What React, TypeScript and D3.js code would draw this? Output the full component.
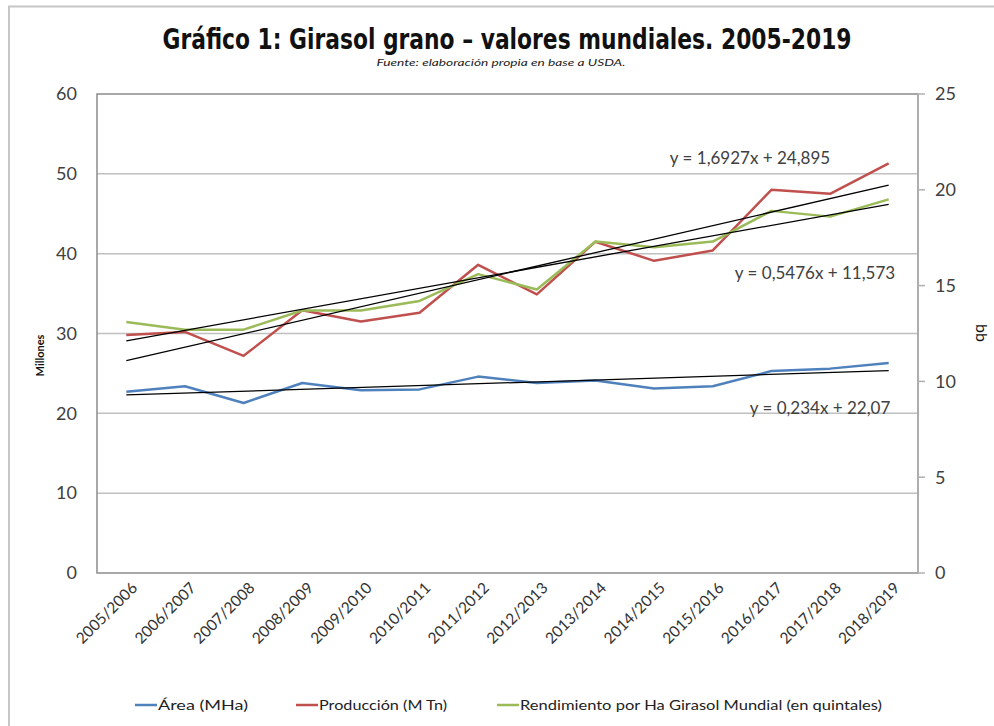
import { useRef, useEffect } from "react";
import * as d3 from "d3";

const campaigns = ["2005/2006", "2006/2007", "2007/2008", "2008/2009", "2009/2010", "2010/2011", "2011/2012", "2012/2013", "2013/2014", "2014/2015", "2015/2016", "2016/2017", "2017/2018", "2018/2019"];
const area = [22.7, 23.4, 21.3, 23.8, 22.9, 23.0, 24.6, 23.8, 24.1, 23.1, 23.4, 25.3, 25.6, 26.3];
const produccion = [29.8, 30.2, 27.2, 32.9, 31.5, 32.6, 38.6, 34.9, 41.5, 39.1, 40.4, 48.0, 47.5, 51.3];
const rendimiento = [13.1, 12.7, 12.7, 13.7, 13.7, 14.2, 15.6, 14.8, 17.3, 17.0, 17.3, 18.9, 18.6, 19.5];
const leftTicks = [0, 10, 20, 30, 40, 50, 60];
const rightTicks = [0, 5, 10, 15, 20, 25];
// trend lines: [slope, intercept, axis]
const trends: { m: number; b: number; axis: "l" | "r"; label: string }[] = [
  { m: 1.6927, b: 24.895, axis: "l", label: "y = 1,6927x + 24,895" },
  { m: 0.5476, b: 11.573, axis: "r", label: "y = 0,5476x + 11,573" },
  { m: 0.234, b: 22.07, axis: "l", label: "y = 0,234x + 22,07" },
];

const FONT = "Lato, 'Open Sans', sans-serif";

export default function App() {
  const ref = useRef<SVGSVGElement>(null);

  useEffect(() => {
    if (!ref.current) return;
    const svg = d3.select(ref.current); svg.selectAll("*").remove();
    const W = 994, H = 726;
    const left = 97, right = 918, top = 94, bottom = 573;
    svg.attr("width", W).attr("height", H);
    svg.append("rect").attr("width", W).attr("height", H).attr("fill", "#fff");
    // outer frame
    svg.append("rect").attr("x", 9).attr("y", 6.5).attr("width", 1100).attr("height", 900)
      .attr("fill", "none").attr("stroke", "#c6c6c6").attr("stroke-width", 2);

    const x = d3.scaleBand().domain(campaigns).range([left, right]);
    const cx = (d: string) => x(d)! + x.bandwidth() / 2;
    const yL = d3.scaleLinear().domain([0, 60]).range([bottom, top]);
    const yR = d3.scaleLinear().domain([0, 25]).range([bottom, top]);

    // title
    svg.append("text").attr("x", 507).attr("y", 49).attr("text-anchor", "middle")
      .attr("font-family", "'Liberation Sans Narrow', 'DejaVu Sans Condensed', sans-serif").attr("font-weight", "bold")
      .attr("font-size", 29).attr("fill", "#111").attr("textLength", 689).attr("lengthAdjust", "spacingAndGlyphs")
      .text("Gráfico 1: Girasol grano – valores mundiales. 2005-2019");
    svg.append("text").attr("x", 501).attr("y", 66).attr("text-anchor", "middle")
      .attr("font-family", FONT).attr("font-style", "italic").attr("font-size", 10).attr("fill", "#222")
      .attr("textLength", 249).attr("lengthAdjust", "spacingAndGlyphs")
      .text("Fuente: elaboración propia en base a USDA.");

    // gridlines
    svg.append("g").selectAll("line").data(leftTicks.filter(t => t > 0 && t < 60)).join("line")
      .attr("x1", left).attr("x2", right).attr("y1", d => yL(d)).attr("y2", d => yL(d))
      .attr("stroke", "#c0c0c0").attr("stroke-width", 1.5);
    // plot border
    svg.append("rect").attr("x", left).attr("y", top).attr("width", right - left).attr("height", bottom - top)
      .attr("fill", "none").attr("stroke", "#8c8c8c").attr("stroke-width", 1.5);
    svg.append("line").attr("x1", right).attr("x2", right).attr("y1", top).attr("y2", bottom)
      .attr("stroke", "#b0b0b0").attr("stroke-width", 1.5);
    svg.append("g").selectAll("line").data(rightTicks).join("line")
      .attr("x1", right).attr("x2", right + 7).attr("y1", d => yR(d)).attr("y2", d => yR(d))
      .attr("stroke", "#b0b0b0").attr("stroke-width", 1.5);

    // tick labels
    svg.append("g").selectAll("text").data(leftTicks).join("text")
      .attr("x", 77).attr("y", d => yL(d)).attr("dy", "0.35em").attr("text-anchor", "end")
      .attr("font-family", FONT).attr("font-size", 18).attr("fill", "#404040").text(d => d);
    svg.append("g").selectAll("text").data(rightTicks).join("text")
      .attr("x", 935).attr("y", d => yR(d)).attr("dy", "0.35em").attr("text-anchor", "start")
      .attr("font-family", FONT).attr("font-size", 18).attr("fill", "#404040").text(d => d);
    svg.append("g").selectAll("text").data(campaigns).join("text")
      .attr("transform", d => `translate(${cx(d) + 12},${bottom + 16}) rotate(-45)`)
      .attr("text-anchor", "end").attr("font-family", FONT).attr("font-size", 15.5).attr("fill", "#333")
      .text(d => d);

    // axis titles
    svg.append("text").attr("transform", `translate(44,${(top + bottom) / 2 + 22}) rotate(-90)`)
      .attr("text-anchor", "middle").attr("font-family", FONT).attr("font-weight", "bold")
      .attr("font-size", 11).attr("fill", "#111").text("Millones");
    svg.append("text").attr("transform", `translate(984,333) rotate(-90)`)
      .attr("text-anchor", "middle").attr("font-family", FONT).attr("font-size", 16)
      .attr("fill", "#111").text("qq");

    // series
    const series = [
      { vals: area, y: yL, color: "#4f81bd" },
      { vals: produccion, y: yL, color: "#c0504d" },
      { vals: rendimiento, y: yR, color: "#9bbb59" },
    ];
    series.forEach(s => {
      const line = d3.line<number>().x((_d, i) => cx(campaigns[i])).y(d => s.y(d));
      svg.append("path").datum(s.vals).attr("fill", "none").attr("stroke", s.color)
        .attr("stroke-width", 2.5).attr("stroke-linejoin", "round").attr("d", line);
    });

    // trend lines
    const first = campaigns[0], last = campaigns[campaigns.length - 1];
    trends.forEach(t => {
      const y = t.axis === "l" ? yL : yR;
      svg.append("line").attr("x1", cx(first)).attr("x2", cx(last))
        .attr("y1", y(t.m * 1 + t.b)).attr("y2", y(t.m * campaigns.length + t.b))
        .attr("stroke", "#000").attr("stroke-width", 1.3);
    });
    const eqPos = [{ x: 750, y: 158 }, { x: 815, y: 273 }, { x: 820, y: 408 }];
    trends.forEach((t, i) => {
      svg.append("text").attr("x", eqPos[i].x).attr("y", eqPos[i].y).attr("dy", "0.35em")
        .attr("text-anchor", "middle").attr("font-family", FONT).attr("font-size", 17).attr("fill", "#404040")
        .text(t.label);
    });

    // legend
    const legend = [
      { label: "Área (MHa)", color: "#4f81bd", x: 135, w: 90 },
      { label: "Producción (M Tn)", color: "#c0504d", x: 296, w: 128 },
      { label: "Rendimiento por Ha Girasol Mundial (en quintales)", color: "#9bbb59", x: 497, w: 362 },
    ];
    legend.forEach(l => {
      svg.append("line").attr("x1", l.x).attr("x2", l.x + 22).attr("y1", 705).attr("y2", 705)
        .attr("stroke", l.color).attr("stroke-width", 2.5);
      svg.append("text").attr("x", l.x + 23).attr("y", 705).attr("dy", "0.35em")
        .attr("font-family", FONT).attr("font-size", 13).attr("fill", "#222")
        .attr("textLength", l.w).attr("lengthAdjust", "spacingAndGlyphs").text(l.label);
    });
  }, []);

  return (
    <div style={{ position: "absolute", left: 0, top: 0 }}>
      <svg ref={ref} style={{ display: "block" }} />
    </div>
  );
}
